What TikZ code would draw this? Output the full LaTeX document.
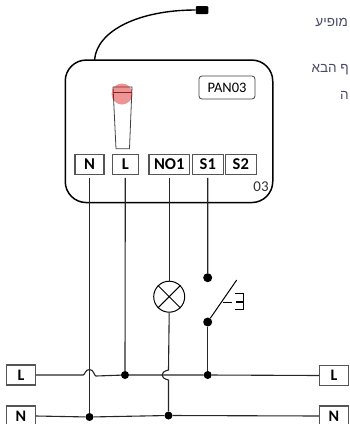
\documentclass[tikz,border=0pt]{standalone}
\usepackage{fontspec}
\setmainfont{Carlito}
\newfontfamily\hebfont[Script=Hebrew]{Liberation Sans}
\TeXXeTstate=1
\definecolor{hebink}{HTML}{4A4A68}
\definecolor{termline}{HTML}{555555}
\tikzset{
  x=1pt,y=-1pt,
  term/.style={draw=termline,line width=1.1pt,inner sep=0pt,minimum height=19.5pt,font=\bfseries\fontsize{16.5}{16.5}\selectfont,text=black},
  lbox/.style={draw=termline,line width=1.1pt,inner sep=0pt,minimum width=28.5pt,minimum height=20pt,font=\bfseries\fontsize{16}{16}\selectfont,text=black},
  wire/.style={draw=black!85,line width=1.1pt},
  dot/.style={circle,fill=black,inner sep=0pt,minimum size=8pt},
  heb/.style={anchor=east,inner sep=0pt,text=hebink,font=\hebfont\fontsize{13.5}{13.5}\selectfont},
}
\begin{document}
\begin{tikzpicture}
\clip (0,0) rectangle (349,424);
\useasboundingbox (0,0) rectangle (349,424);
% Hebrew fragments
\node[heb] (h1) at (348,22) {\beginR מופיע\endR};
\node[heb] (h2) at (349,70) {\beginR ף הבא\endR};
\node[heb] (h3) at (349,95) {\beginR ה\endR};
% module body
\node[draw=black,line width=1.5pt,rounded corners=21pt,minimum width=207.5pt,minimum height=142.5pt,inner sep=0pt] (body) at (169,131.3) {};
% antenna
\node[fill=black,rounded corners=1pt,minimum width=12.5pt,minimum height=8pt,inner sep=0pt] (ant) at (202,10) {};
\coordinate (antbase) at (94.5,60);
\draw[line width=1.4pt] (antbase) .. controls (97,30) and (140,10) .. (ant.west);
% slider
\draw[draw=black!75,line width=0.8pt] (113,87) -- (132,87) -- (129.5,148.7) -- (116,148.7) -- cycle;
\draw[draw=black!75,line width=0.8pt] (113,92) -- (132,92);
\node[circle,fill=red!85!black,fill opacity=0.42,inner sep=0pt,minimum size=21pt] (led) at (122,94) {};
% label
\node[draw=black!75,line width=0.8pt,rounded corners=3pt,minimum width=56pt,minimum height=23pt,inner sep=0pt,font=\fontsize{14.5}{14.5}\selectfont] (pan) at (227,87.5) {PAN03};
% terminals
\node[term,minimum width=29pt] (tN) at (89.5,164.5) {N};
\node[term,minimum width=26.5pt] (tL) at (125.3,164.5) {L};
\node[term,minimum width=40.5pt] (tNO) at (169.2,164.5) {NO1};
\node[term,minimum width=30.5pt] (tS1) at (207.8,164.5) {S1};
\node[term,minimum width=30.5pt] (tS2) at (240.8,164.5) {S2};
\node[inner sep=0pt,text=black!80,font=\fontsize{15}{15}\selectfont] (num) at (261,187) {03};
% supply boxes
\node[lbox] (Ll) at (21,375) {L};
\node[lbox] (Lr) at (334,375.5) {L};
\node[lbox] (Nl) at (21,416) {N};
\node[lbox] (Nr) at (334,416) {N};
% junction dots
\node[dot] (dL) at (125,375) {};
\node[dot] (dNl) at (89.5,417) {};
\node[dot] (dNm) at (168.5,415.5) {};
\node[dot] (dS) at (207.7,375) {};
\node[dot,minimum width=9pt,minimum height=7pt] (sw1) at (207.7,277.7) {};
\node[dot,minimum width=9pt,minimum height=7pt] (sw2) at (207.7,322) {};
% lamp
\node[draw=black,circle,line width=1pt,inner sep=0pt,minimum size=31pt] (lamp) at (169.2,296.7) {};
\draw[line width=1pt] (lamp.north west) -- (lamp.south east) (lamp.north east) -- (lamp.south west);
% wires
\draw[wire,shorten <=3pt] (tN.south) -- (dNl);
\draw[wire,shorten <=3pt] (tL.south) -- (dL);
\draw[wire,shorten <=3pt] (tNO.south) -- (lamp.north);
\draw[wire,shorten <=3pt] (tS1.south) -- (sw1);
\draw[wire] (sw2) -- (dS);
% L rail with hop over N wire, NO1 wire hops round L rail
\coordinate (bow) at (162,375);
\draw[wire] (Ll.east) -- (83,375) .. controls (85,375) and (85,369.5) .. (89.5,369.5) .. controls (94,369.5) and (94,376) .. (96,376) -- (dL) -- (bow);
\draw[wire] (bow) -- (dS) -- (Lr.west);
\draw[wire] (lamp.south) -- (168.5,370) .. controls (164,371) and (162,373) .. (bow) .. controls (162,377) and (164,379) .. (168.5,380) -- (dNm);
% N rail
\draw[wire] (Nl.east) -- (dNl) -- (dNm) -- (Nr.west);
% switch
\coordinate (swtip) at (236.7,280);
\coordinate (swmid) at (223.3,302);
\coordinate (act) at (232,302);
\draw[line width=1pt] (sw2) -- (swtip);
\draw[line width=0.9pt] (swmid) -- (act);
\draw[line width=1.2pt] (235.3,293.3) -- (243.3,293.3) -- (243.3,309.3) -- (235.3,309.3) (236,302) -- (243.3,302);
\end{tikzpicture}
\end{document}
